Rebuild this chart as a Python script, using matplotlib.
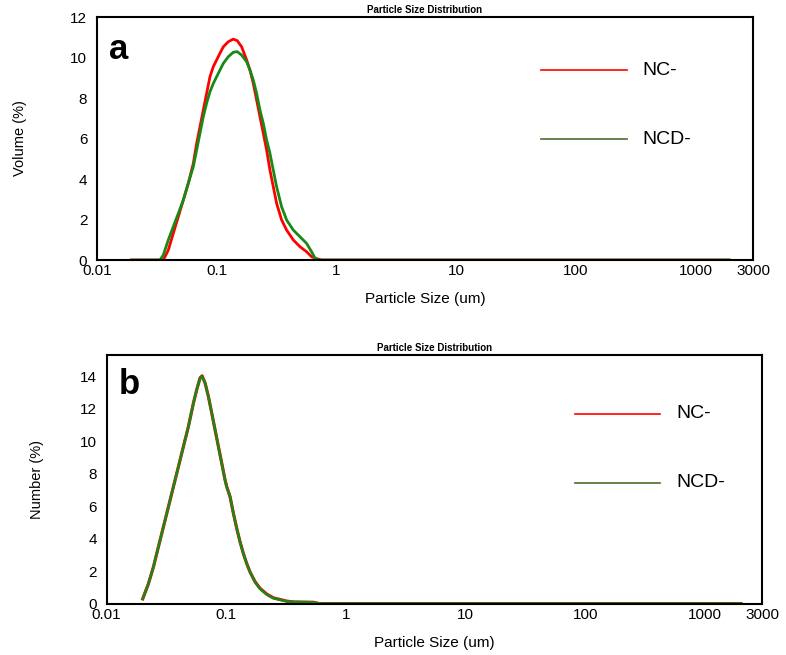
import numpy as np
import matplotlib
matplotlib.use("Agg")
import matplotlib.pyplot as plt

plt.rcParams['font.family'] = ['Liberation Sans', 'DejaVu Sans']

# panel a: volume distribution (size in um, volume %)
nc_vol_size = [0.0193, 0.0358, 0.03938, 0.04336, 0.04774, 0.05255, 0.05786, 0.0637,
               0.06792, 0.07242, 0.0772, 0.08229, 0.08774, 0.09357, 0.09975, 0.1063,
               0.1134, 0.1248, 0.1374, 0.1484, 0.1613, 0.1776, 0.1893, 0.2018, 0.2152,
               0.2294, 0.2446, 0.2608, 0.278, 0.2964, 0.316, 0.3479, 0.383, 0.4355,
               0.4948, 0.5626, 0.6193, 0.6818, 0.7504, 1900]
nc_vol = [0, 0, 0.49, 1.32, 2.14, 2.96, 3.79, 4.77,
          5.76, 6.58, 7.41, 8.23, 9.05, 9.55, 9.88, 10.21,
          10.53, 10.78, 10.91, 10.83, 10.53, 9.88, 9.38, 8.72, 7.90,
          7.08, 6.26, 5.43, 4.44, 3.62, 2.80, 1.98, 1.48, 0.99,
          0.66, 0.41, 0.16, 0.07, 0, 0]

ncd_vol_size = [0.0193, 0.03356, 0.03578, 0.03938, 0.04336, 0.04774, 0.05255, 0.05786,
                0.0637, 0.06792, 0.07242, 0.0772, 0.08229, 0.08774, 0.09357, 0.09975,
                0.1063, 0.1134, 0.1248, 0.1374, 0.1484, 0.1613, 0.1776, 0.1893, 0.2018,
                0.2152, 0.2294, 0.2446, 0.2608, 0.278, 0.2964, 0.316, 0.3479, 0.383,
                0.4355, 0.4948, 0.5626, 0.6193, 0.6603, 0.704, 1900]
ncd_vol = [0, 0, 0.25, 0.99, 1.65, 2.30, 2.96, 3.79,
           4.61, 5.43, 6.26, 7.08, 7.74, 8.31, 8.72, 9.05,
           9.38, 9.71, 10.04, 10.26, 10.29, 10.12, 9.79, 9.38, 8.89,
           8.23, 7.41, 6.75, 5.93, 5.27, 4.44, 3.62, 2.63, 1.98,
           1.48, 1.15, 0.82, 0.41, 0.10, 0, 0]

# panel b: number distribution (size in um, number %)
num_size = [0.02006, 0.02238, 0.02464, 0.02713, 0.02988, 0.03289, 0.03622, 0.03987,
            0.0439, 0.04834, 0.05322, 0.05674, 0.06051, 0.06288, 0.06662, 0.07101,
            0.07574, 0.08075, 0.0861, 0.09183, 0.0979, 0.1011, 0.1078, 0.115,
            0.1226, 0.1307, 0.1394, 0.1486, 0.1585, 0.1744, 0.1921, 0.2184,
            0.2483, 0.2823, 0.3209, 0.3649, 0.5363, 0.6, 2000]
nc_num = [0.31, 1.23, 2.26, 3.50, 4.73, 5.96, 7.20, 8.43,
          9.67, 10.90, 12.34, 13.17, 13.89, 14.02, 13.58, 12.75,
          11.73, 10.70, 9.67, 8.64, 7.61, 7.20, 6.58, 5.55,
          4.63, 3.80, 3.08, 2.47, 1.95, 1.36, 0.95, 0.60,
          0.37, 0.27, 0.17, 0.12, 0.10, 0.02, 0.02]
ncd_num = [0.31, 1.23, 2.26, 3.50, 4.73, 5.96, 7.20, 8.43,
           9.67, 10.90, 12.34, 13.17, 13.89, 13.99, 13.58, 12.75,
           11.73, 10.70, 9.67, 8.64, 7.61, 7.20, 6.58, 5.55,
           4.63, 3.80, 3.08, 2.47, 1.95, 1.34, 0.92, 0.57,
           0.35, 0.25, 0.16, 0.12, 0.10, 0.02, 0.02]

xticks = [0.01, 0.1, 1, 10, 100, 1000, 3000]
xticklabels = ['0.01', '0.1', '1', '10', '100', '1000', '3000']
labels = ['NC-', 'NCD-']

red = '#ff0000'
green = '#158a15'
olive = '#4f6a2c'

fig = plt.figure(figsize=(7.86, 6.55), dpi=100)
ax1 = fig.add_axes([0.1234, 0.603, 0.8346, 0.371])
ax2 = fig.add_axes([0.1355, 0.078, 0.834, 0.380])


def style(ax, ymax, yticks, ylabel, letter, letter_y, leg_x, leg_y, leg_dy, ypad):
    ax.set_xscale('log')
    ax.set_xlim(0.01, 3000)
    ax.set_ylim(0, ymax)
    ax.set_xticks(xticks)
    ax.set_xticklabels(xticklabels)
    ax.minorticks_off()
    ax.set_yticks(yticks)
    ax.tick_params(length=0, labelsize=11)
    ax.tick_params(axis='x', pad=3)
    ax.tick_params(axis='y', pad=7)
    for s in ax.spines.values():
        s.set_linewidth(1.5)
    ax.set_title('Particle Size Distribution', fontsize=7, fontweight='bold', pad=3)
    ax.set_xlabel('Particle Size (um)', fontsize=11, labelpad=10)
    ax.set_ylabel(ylabel, fontsize=10.5, labelpad=ypad)
    ax.text(0.018, letter_y, letter, transform=ax.transAxes, fontsize=25,
            fontweight='bold', va='center', ha='left')
    # legend drawn by hand, as in the original
    for i, (c, lab) in enumerate(zip([red, olive], labels)):
        yy = leg_y - i * leg_dy
        ax.plot([leg_x, leg_x + 0.131], [yy, yy], color=c, lw=1.2,
                transform=ax.transAxes)
        ax.text(leg_x + 0.155, yy, lab, transform=ax.transAxes, fontsize=14,
                va='center', ha='left')


ax1.plot(nc_vol_size, nc_vol, color=red, lw=2)
ax1.plot(ncd_vol_size, ncd_vol, color=green, lw=2)
style(ax1, 12, range(0, 13, 2), 'Volume (%)', 'a', 0.865, 0.677, 0.782, 0.284, 31)

ax2.plot(num_size, nc_num, color=red, lw=2.3)
ax2.plot(num_size, ncd_num, color=green, lw=1.8)
style(ax2, 15.3, range(0, 15, 2), 'Number (%)', 'b', 0.88, 0.714, 0.763, 0.277, 26)

fig.savefig('out.png', dpi=100)
